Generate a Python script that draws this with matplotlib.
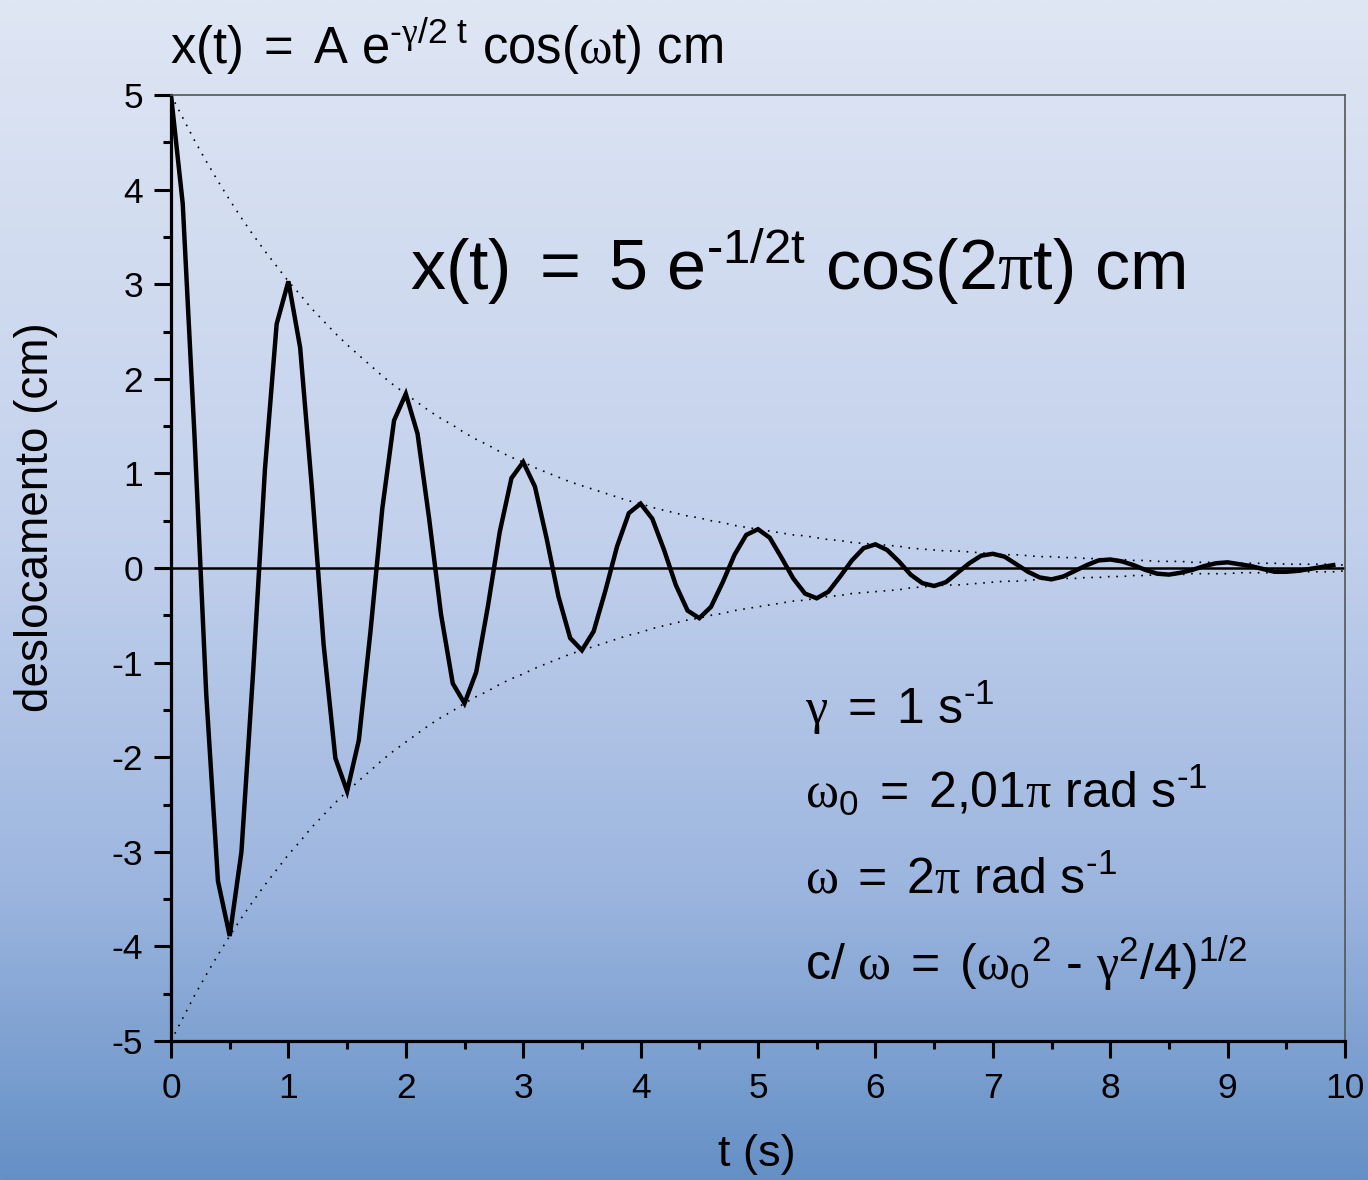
import numpy as np
import matplotlib
matplotlib.use("Agg")
import matplotlib.pyplot as plt
from matplotlib.colors import LinearSegmentedColormap
from matplotlib.ticker import MultipleLocator

# ---------------- data ----------------
t_step = 0.1
x_values = [
    5.00, 3.85, 1.40, -1.33, -3.31, -3.89, -3.00, -1.09, 1.04, 2.58,
    3.03, 2.33, 0.85, -0.81, -2.01, -2.36, -1.82, -0.66, 0.63, 1.56,
    1.84, 1.42, 0.51, -0.49, -1.22, -1.43, -1.10, -0.40, 0.38, 0.95,
    1.12, 0.86, 0.31, -0.30, -0.74, -0.87, -0.67, -0.24, 0.23, 0.58,
    0.68, 0.52, 0.19, -0.18, -0.45, -0.53, -0.41, -0.15, 0.14, 0.35,
    0.41, 0.32, 0.11, -0.11, -0.27, -0.32, -0.25, -0.09, 0.08, 0.21,
    0.25, 0.19, 0.07, -0.07, -0.16, -0.19, -0.15, -0.05, 0.05, 0.13,
    0.15, 0.12, 0.04, -0.04, -0.10, -0.12, -0.09, -0.03, 0.03, 0.08,
    0.09, 0.07, 0.03, -0.02, -0.06, -0.07, -0.05, -0.02, 0.02, 0.05,
    0.06, 0.04, 0.02, -0.01, -0.04, -0.04, -0.03, -0.01, 0.01, 0.03,
]
envelope = [
    5.00, 4.76, 4.52, 4.30, 4.09, 3.89, 3.70, 3.52, 3.35, 3.19,
    3.03, 2.89, 2.74, 2.61, 2.48, 2.36, 2.25, 2.14, 2.03, 1.93,
    1.84, 1.75, 1.66, 1.58, 1.51, 1.43, 1.36, 1.30, 1.23, 1.17,
    1.12, 1.06, 1.01, 0.96, 0.91, 0.87, 0.83, 0.79, 0.75, 0.71,
    0.68, 0.64, 0.61, 0.58, 0.55, 0.53, 0.50, 0.48, 0.45, 0.43,
    0.41, 0.39, 0.37, 0.35, 0.34, 0.32, 0.30, 0.29, 0.27, 0.26,
    0.25, 0.24, 0.23, 0.21, 0.20, 0.19, 0.18, 0.18, 0.17, 0.16,
    0.15, 0.14, 0.14, 0.13, 0.12, 0.12, 0.11, 0.11, 0.10, 0.10,
    0.09, 0.09, 0.08, 0.08, 0.07, 0.07, 0.07, 0.06, 0.06, 0.06,
    0.06, 0.05, 0.05, 0.05, 0.05, 0.04, 0.04, 0.04, 0.04, 0.04,
    0.03,
]
t_x = np.round(np.arange(len(x_values)) * t_step, 1)
t_env = np.round(np.arange(len(envelope)) * t_step, 1)
x_ticks = [0, 1, 2, 3, 4, 5, 6, 7, 8, 9, 10]
y_ticks = [-5, -4, -3, -2, -1, 0, 1, 2, 3, 4, 5]

# ---------------- style ----------------
plt.rcParams['font.family'] = ['Liberation Sans', 'DejaVu Sans']
plt.rcParams['mathtext.fontset'] = 'custom'
plt.rcParams['mathtext.rm'] = 'Liberation Sans'
plt.rcParams['mathtext.it'] = 'Liberation Sans:italic'
plt.rcParams['mathtext.sf'] = 'Liberation Serif'
plt.rcParams['mathtext.default'] = 'rm'
plt.rcParams['axes.unicode_minus'] = False

W, H = 1368, 1180
fig = plt.figure(figsize=(W / 100, H / 100), dpi=100)

# background gradient
bg = fig.add_axes([0, 0, 1, 1], zorder=-10)
cmap = LinearSegmentedColormap.from_list(
    'bg', [(0.0, '#dfe6f4'), (0.45, '#c3d1ec'), (0.75, '#9db6df'), (1.0, '#6590c6')])
grad = np.linspace(0, 1, 512).reshape(-1, 1)
bg.imshow(grad, aspect='auto', cmap=cmap, extent=[0, 1, 1, 0])
bg.set_axis_off()

ax = fig.add_axes([171 / W, 1 - 1041 / H, (1345 - 171) / W, (1041 - 95) / H])
ax.set_facecolor('none')
ax.set_xlim(0, 10)
ax.set_ylim(-5, 5)

ax.plot(t_env, envelope, color='black', lw=1.2, ls=(0, (1, 4)))
ax.plot(t_env, [-v for v in envelope], color='black', lw=1.2, ls=(0, (1, 4)))
ax.axhline(0, color='black', lw=1.8)
ax.plot(t_x, x_values, color='black', lw=3.2, solid_joinstyle='miter')

for s in ['left', 'bottom']:
    ax.spines[s].set_linewidth(2.3)
    ax.spines[s].set_color('black')
for s in ['top', 'right']:
    ax.spines[s].set_linewidth(1.2)
    ax.spines[s].set_color('#555555')

ax.set_xticks(x_ticks)
ax.set_yticks(y_ticks)
ax.xaxis.set_minor_locator(MultipleLocator(0.5))
ax.yaxis.set_minor_locator(MultipleLocator(0.5))
ax.tick_params(which='major', direction='out', length=12, width=2.2,
               labelsize=25.5, top=False, right=False)
ax.tick_params(which='minor', direction='out', length=6, width=2.2,
               top=False, right=False)
ax.tick_params(axis='x', which='major', pad=10)
ax.tick_params(axis='y', which='major', pad=8)


def ftext(x, y, s, size, **kw):
    opts = dict(va='baseline', ha='left')
    opts.update(kw)
    fig.text(x / W, 1 - y / H, s, fontsize=size, **opts)


# axis labels
ftext(757, 1166, 't (s)', 32.5, ha='center')
ftext(36, 517, 'deslocamento (cm)', 33, ha='center', va='center', rotation=90)

HY = '\u2010'  # short hyphen as in the original
EQ = r'\;=\;'
ftext(170, 64, r'$x(t)' + EQ + r'A\ e^{' + HY + r'\mathsf{\gamma}/2\ t}\ cos(\mathsf{\omega}t)\ cm$', 36.5)
ftext(410, 290, r'$x(t)' + EQ + r'5\ e^{' + HY + r'1/2t}\ cos(2\mathsf{\pi}t)\ cm$', 50.5)

ptxt = 36
ftext(805, 724, r'$\mathsf{\gamma}' + EQ + r'1\ s^{' + HY + r'1}$', ptxt)
ftext(805, 808, r'$\mathsf{\omega}_0' + EQ + r'2{,}01\mathsf{\pi}\ rad\ s^{' + HY + r'1}$', ptxt)
ftext(805, 894, r'$\mathsf{\omega}' + EQ + r'2\mathsf{\pi}\ rad\ s^{' + HY + r'1}$', ptxt)
ftext(805, 980, r'$c/\ \mathsf{\omega}' + EQ + r'({\mathsf{\omega}_0}^2\ ' + HY
      + r'\ \mathsf{\gamma}^2/4)^{1/2}$', ptxt)

fig.savefig('out.png', dpi=100)
